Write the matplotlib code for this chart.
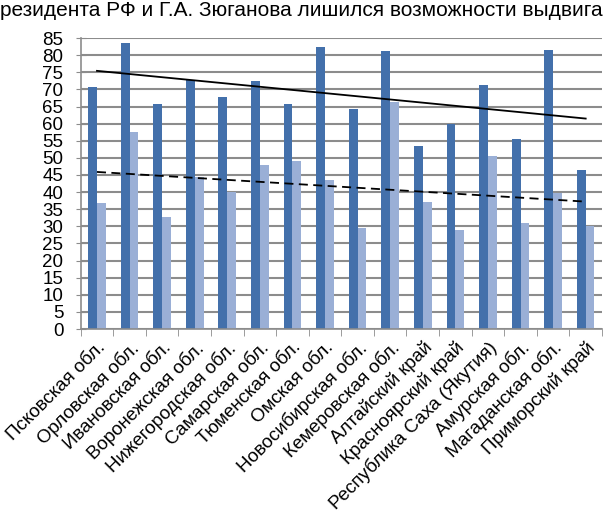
import numpy as np
import matplotlib
matplotlib.use("Agg")
import matplotlib.pyplot as plt

plt.rcParams['font.family'] = ['Liberation Sans', 'DejaVu Sans']

# regions and the two series
regions = ["Псковская обл.", "Орловская обл.", "Ивановская обл.", "Воронежская обл.",
           "Нижегородская обл.", "Самарская обл.", "Тюменская обл.", "Омская обл.",
           "Новосибирская обл.", "Кемеровская обл.", "Алтайский край", "Красноярский край",
           "Республика Саха (Якутия)", "Амурская обл.", "Магаданская обл.", "Приморский край"]
series1 = [70.6, 83.5, 65.7, 72.8, 67.7, 72.6, 65.8, 82.5,
           64.4, 81.2, 53.5, 60.0, 71.3, 55.6, 81.6, 46.5]
series2 = [36.8, 57.6, 32.7, 44.4, 40.1, 47.9, 49.0, 43.5,
           29.4, 66.3, 37.1, 28.8, 50.6, 31.1, 39.6, 30.0]
title_text = "резидента РФ и Г.А. Зюганова лишился возможности выдвига"

dark = "#4370AB"
light = "#9AAFD6"
grid_col = "#8C8C8C"

fig = plt.figure(figsize=(6.03, 5.14), dpi=100)
ax = fig.add_axes([0.1338, 0.3599, 0.8645, 0.566])

x = np.arange(len(regions))
w = 0.27
ax.bar(x - w / 2, series1, width=w, color=dark, zorder=2)
ax.bar(x + w / 2, series2, width=w, color=light, zorder=2)

# linear trend lines like Excel
for vals, ls in [(series1, "-"), (series2, (0, (5, 3)))]:
    k, b = np.polyfit(x, vals, 1)
    ax.plot([x[0], x[-1]], [k * x[0] + b, k * x[-1] + b], color="black",
            linestyle=ls, linewidth=1.3, zorder=3)

ax.set_xlim(-0.5, len(regions) - 0.5)
ax.set_ylim(0, 85)
ax.set_yticks(np.arange(0, 86, 5))
ax.yaxis.grid(True, color=grid_col, linewidth=1.5, zorder=0)
ax.set_axisbelow(True)

ax.set_xticks(x)
ax.set_xticklabels(regions, rotation=45, ha="right", rotation_mode="anchor", fontsize=13.5)
ax.set_xticks(np.arange(-0.5, len(regions), 1), minor=True)
ax.tick_params(axis="x", which="major", length=0, pad=7)
ax.tick_params(axis="x", which="minor", length=5, color=grid_col, direction="out")
ax.tick_params(axis="y", length=7, color=grid_col, direction="inout", labelsize=13.5, pad=9)

for s in ["top", "right"]:
    ax.spines[s].set_visible(False)
for s in ["left", "bottom"]:
    ax.spines[s].set_color(grid_col)
    ax.spines[s].set_linewidth(1.2)

fig.text(0.0, 0.998, title_text, ha="left", va="top", fontsize=15)

fig.savefig("out.png", dpi=100)
